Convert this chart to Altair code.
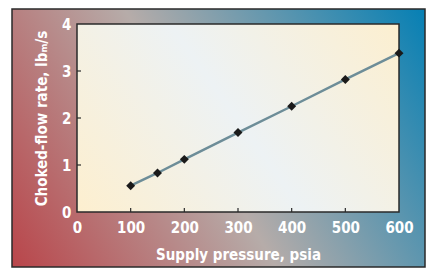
import altair as alt
import pandas as pd

pressure = [100, 150, 200, 300, 400, 500, 600]
flow = [0.56, 0.83, 1.12, 1.69, 2.25, 2.82, 3.38]
x_ticks = [0, 100, 200, 300, 400, 500, 600]
y_ticks = [0, 1, 2, 3, 4]

W, H = 322, 188
FONT = "Liberation Sans Narrow, Arial Narrow, DejaVu Sans Condensed, sans-serif"

df = pd.DataFrame({"p": pressure, "f": flow})
one = pd.DataFrame({"a": [0]})

xs = alt.Scale(domain=[0, 600], nice=False)
ys = alt.Scale(domain=[0, 4], nice=False)

outer_grad = alt.LinearGradient(
    gradient="linear", x1=0, y1=1, x2=1.2, y2=0.56,
    stops=[alt.GradientStop(offset=0, color="#b9454a"),
           alt.GradientStop(offset=0.47, color="#b6aca9"),
           alt.GradientStop(offset=1, color="#0780b4")])
inner_grad = alt.LinearGradient(
    gradient="linear", x1=0, y1=1, x2=1.2, y2=0.5,
    stops=[alt.GradientStop(offset=0, color="#fdefcf"),
           alt.GradientStop(offset=0.5, color="#edf2f4"),
           alt.GradientStop(offset=1, color="#fcefd0")])

frame = alt.Chart(one).mark_rect(fill=outer_grad, stroke="#2a2a2a", strokeWidth=1.5, clip=False).encode(
    x=alt.value(-65), x2=alt.value(W + 26), y=alt.value(-15), y2=alt.value(H + 55))

plot_bg = alt.Chart(one).mark_rect(fill=inner_grad, stroke="#2a2a2a", strokeWidth=1.5, clip=False).encode(
    x=alt.value(0), x2=alt.value(W), y=alt.value(0), y2=alt.value(H))

xtick_df = pd.DataFrame({"t": x_ticks[1:-1]})
ytick_df = pd.DataFrame({"t": y_ticks[1:-1]})

xticks = alt.Chart(xtick_df).mark_rule(color="#2a2a2a", strokeWidth=1.2).encode(
    x=alt.X("t:Q", scale=xs), y=alt.value(H - 4), y2=alt.value(H))
yticks = alt.Chart(ytick_df).mark_rule(color="#2a2a2a", strokeWidth=1.2).encode(
    y=alt.Y("t:Q", scale=ys), x=alt.value(0), x2=alt.value(4))

line = alt.Chart(df).mark_line(color="#6d8d98", strokeWidth=2.5).encode(
    x=alt.X("p:Q", scale=xs,
            axis=alt.Axis(values=x_ticks, title="Supply pressure, psia", ticks=False, domain=False,
                          grid=False, labelPadding=8, titlePadding=12, zindex=1,
                          labelFlush=False, labelOverlap=False)),
    y=alt.Y("f:Q", scale=ys,
            axis=alt.Axis(values=y_ticks, title="Choked-flow rate, lbₘ/s", ticks=False, domain=False,
                          grid=False, labelPadding=6, titlePadding=12, zindex=1,
                          labelFlush=False, labelOverlap=False)))

pts = alt.Chart(df).mark_point(shape="diamond", filled=True, color="#1a1a1a", size=80, opacity=1).encode(
    x=alt.X("p:Q", scale=xs), y=alt.Y("f:Q", scale=ys))

chart = alt.layer(frame, plot_bg, xticks, yticks, line, pts).properties(
    width=W, height=H,
    autosize=alt.AutoSizeParams(type="none"),
    padding={"left": 69, "top": 16, "right": 27, "bottom": 56},
).configure_view(stroke=None).configure_axis(
    labelFont=FONT, titleFont=FONT, labelFontSize=15, titleFontSize=15,
    labelFontWeight="bold", titleFontWeight="bold",
    labelColor="white", titleColor="white",
)

chart.save("out.html", embed_options={"renderer": "svg", "actions": False})
